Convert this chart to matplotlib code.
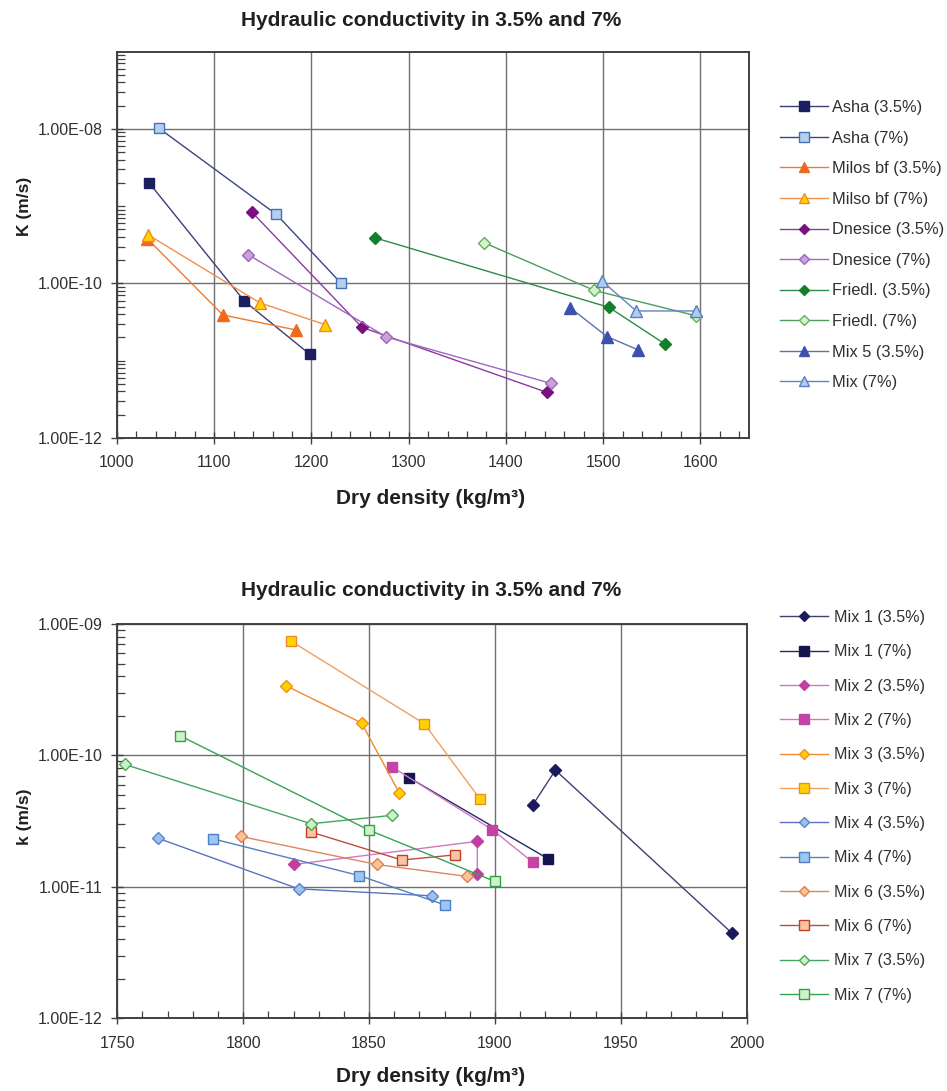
import numpy as np
import matplotlib
matplotlib.use("Agg")
import matplotlib.pyplot as plt
from matplotlib.ticker import FixedLocator, NullFormatter, FixedFormatter

plt.rcParams['font.family'] = ['Liberation Sans', 'DejaVu Sans']

# ---------------- upper chart data ----------------
asha_35_x = [1033, 1131, 1198]
asha_35_k = [2.0e-9, 5.9e-11, 1.22e-11]
asha_7_x = [1043, 1164, 1230]
asha_7_k = [1.02e-8, 7.8e-10, 1.02e-10]
milos_35_x = [1031, 1109, 1184]
milos_35_k = [3.8e-10, 3.9e-11, 2.5e-11]
milso_7_x = [1032, 1147, 1214]
milso_7_k = [4.25e-10, 5.6e-11, 2.93e-11]
dnesice_35_x = [1139, 1252, 1442]
dnesice_35_k = [8.3e-10, 2.7e-11, 3.9e-12]
dnesice_7_x = [1135, 1277, 1446]
dnesice_7_k = [2.35e-10, 2.03e-11, 5.1e-12]
friedl_35_x = [1265, 1506, 1564]
friedl_35_k = [3.9e-10, 4.9e-11, 1.63e-11]
friedl_7_x = [1377, 1491, 1596]
friedl_7_k = [3.38e-10, 8.1e-11, 3.8e-11]
mix5_35_x = [1466, 1504, 1536]
mix5_35_k = [4.85e-11, 2.05e-11, 1.38e-11]
mix_7_x = [1499, 1534, 1596]
mix_7_k = [1.07e-10, 4.4e-11, 4.4e-11]

# ---------------- lower chart data ----------------
mix1_35_x = [1915, 1924, 1994]
mix1_35_k = [4.19e-11, 7.73e-11, 4.47e-12]
mix1_7_x = [1866, 1921]
mix1_7_k = [6.75e-11, 1.64e-11]
mix2_35_x = [1820, 1893, 1893]
mix2_35_k = [1.48e-11, 2.22e-11, 1.26e-11]
mix2_7_x = [1859, 1899, 1915]
mix2_7_k = [8.2e-11, 2.72e-11, 1.54e-11]
mix3_35_x = [1817, 1847, 1862]
mix3_35_k = [3.39e-10, 1.77e-10, 5.19e-11]
mix3_7_x = [1819, 1872, 1894]
mix3_7_k = [7.41e-10, 1.74e-10, 4.67e-11]
mix4_35_x = [1766, 1822, 1875]
mix4_35_k = [2.35e-11, 9.66e-12, 8.55e-12]
mix4_7_x = [1788, 1846, 1880]
mix4_7_k = [2.32e-11, 1.22e-11, 7.3e-12]
mix6_35_x = [1799, 1853, 1889]
mix6_35_k = [2.42e-11, 1.48e-11, 1.2e-11]
mix6_7_x = [1827, 1863, 1884]
mix6_7_k = [2.61e-11, 1.6e-11, 1.75e-11]
mix7_35_x = [1753, 1827, 1859]
mix7_35_k = [8.54e-11, 3.02e-11, 3.5e-11]
mix7_7_x = [1775, 1850, 1900]
mix7_7_k = [1.41e-10, 2.7e-11, 1.1e-11]

TITLE = "Hydraulic conductivity in 3.5% and 7%"
XLABEL = "Dry density (kg/m\u00b3)"

W, H = 947, 1091
fig = plt.figure(figsize=(W / 100, H / 100), dpi=100)

def px_axes(l, t, r, b):
    return fig.add_axes([l / W, 1 - b / H, (r - l) / W, (b - t) / H])

def style_axes(ax, xlim, xmaj, xmin, ylim, ymaj, ylabels):
    ax.set_yscale('log')
    ax.set_xlim(*xlim)
    ax.set_ylim(*ylim)
    ax.xaxis.set_major_locator(FixedLocator(xmaj))
    ax.xaxis.set_minor_locator(FixedLocator([v for v in xmin if v not in xmaj]))
    ax.yaxis.set_major_locator(FixedLocator(ymaj))
    ax.yaxis.set_major_formatter(FixedFormatter(ylabels))
    lo, hi = int(round(np.log10(ylim[0]))), int(round(np.log10(ylim[1])))
    minors = []
    for e in range(lo, hi):
        for s in range(1, 10):
            v = s * 10.0 ** e
            if not any(np.isclose(v, m, rtol=1e-6, atol=0) for m in ymaj):
                minors.append(v)
    ax.yaxis.set_minor_locator(FixedLocator(minors))
    ax.yaxis.set_minor_formatter(NullFormatter())
    ax.grid(True, which='major', color='#707070', lw=1.0)
    ax.set_axisbelow(True)
    for sp in ax.spines.values():
        sp.set_color('#404040')
        sp.set_linewidth(1.4)
    ax.tick_params(which='major', direction='inout', length=9, width=1.0,
                   color='#404040', labelsize=11.5, labelcolor='#303030')
    ax.tick_params(which='minor', direction='in', length=5, width=0.9, color='#404040')
    ax.tick_params(axis='x', which='major', pad=8)
    ax.tick_params(axis='y', which='major', pad=6)
    ax.tick_params(axis='y', which='minor', length=6)

def series(ax, x, k, label, marker, ms, face, edge, line, lw=1.0):
    ax.plot(x, k, color=line, lw=lw, marker=marker, ms=ms,
            mfc=face, mec=edge, mew=1.0, label=label, zorder=3)

SQ, TRI, DIA = 7.5, 8.5, 6

# ---------------- upper chart ----------------
ax1 = px_axes(117, 51.5, 749, 438)
style_axes(ax1, (1000, 1650), list(range(1000, 1651, 100)),
           list(range(1000, 1651, 20)), (1e-12, 1e-7),
           [1e-12, 1e-10, 1e-8], ['1.00E-12', '1.00E-10', '1.00E-08'])

series(ax1, asha_35_x, asha_35_k, 'Asha (3.5%)', 's', SQ, '#1b1f62', '#1b1f62', '#3a3f78')
series(ax1, asha_7_x, asha_7_k, 'Asha (7%)', 's', SQ, '#b4d0f0', '#4a70b4', '#3c4482')
series(ax1, milos_35_x, milos_35_k, 'Milos bf (3.5%)', '^', TRI, '#f06a1e', '#f06a1e', '#f07a30')
series(ax1, milso_7_x, milso_7_k, 'Milso bf (7%)', '^', TRI, '#ffd400', '#f08a20', '#f09050')
series(ax1, dnesice_35_x, dnesice_35_k, 'Dnesice (3.5%)', 'D', DIA, '#7a1080', '#7a1080', '#8a3c9c')
series(ax1, dnesice_7_x, dnesice_7_k, 'Dnesice (7%)', 'D', DIA, '#c9a2dc', '#9a68b8', '#a066c0')
series(ax1, friedl_35_x, friedl_35_k, 'Friedl. (3.5%)', 'D', DIA, '#13802c', '#13802c', '#2e8a46')
series(ax1, friedl_7_x, friedl_7_k, 'Friedl. (7%)', 'D', DIA, '#d6f2c8', '#62b062', '#4e9c5a')
series(ax1, mix5_35_x, mix5_35_k, 'Mix 5 (3.5%)', '^', TRI, '#3e50b0', '#3e50b0', '#6070a8')
series(ax1, mix_7_x, mix_7_k, 'Mix (7%)', '^', TRI, '#acccf2', '#5c7ec0', '#6482c0')

ax1.legend(loc='upper left', bbox_to_anchor=(780 / W, 1 - 100 / H),
           bbox_transform=fig.transFigure, frameon=False, fontsize=11.8,
           handlelength=2.9, handletextpad=0.3, labelspacing=0.95,
           borderpad=0, borderaxespad=0, labelcolor='#303030', markerscale=0.9)

fig.text(431 / W, 1 - 20 / H, TITLE, ha='center', va='center',
         fontsize=15, fontweight='bold', color='#202020')
fig.text(431 / W, 1 - 499 / H, XLABEL, ha='center', va='center',
         fontsize=15, fontweight='bold', color='#202020')
fig.text(25 / W, 1 - 206 / H, 'K (m/s)', ha='center', va='center',
         rotation=90, fontsize=12.5, fontweight='bold', color='#202020')

# ---------------- lower chart ----------------
ax2 = px_axes(117.3, 624, 746.7, 1018.3)
style_axes(ax2, (1750, 2000), list(range(1750, 2001, 50)),
           list(range(1750, 2001, 10)), (1e-12, 1e-9),
           [1e-12, 1e-11, 1e-10, 1e-9],
           ['1.00E-12', '1.00E-11', '1.00E-10', '1.00E-09'])

series(ax2, mix1_35_x, mix1_35_k, 'Mix 1 (3.5%)', 'D', DIA, '#1a1a5c', '#1a1a5c', '#3e4070')
series(ax2, mix1_7_x, mix1_7_k, 'Mix 1 (7%)', 's', SQ, '#14164e', '#14164e', '#24266a')
series(ax2, mix2_35_x, mix2_35_k, 'Mix 2 (3.5%)', 'D', DIA, '#c040a0', '#c040a0', '#d276c4')
series(ax2, mix2_7_x, mix2_7_k, 'Mix 2 (7%)', 's', SQ, '#c444a4', '#c444a4', '#d276c4')
series(ax2, mix3_35_x, mix3_35_k, 'Mix 3 (3.5%)', 'D', DIA, '#ffd000', '#f09020', '#f08a30')
series(ax2, mix3_7_x, mix3_7_k, 'Mix 3 (7%)', 's', SQ, '#ffd400', '#f08a20', '#f0a060')
series(ax2, mix4_35_x, mix4_35_k, 'Mix 4 (3.5%)', 'D', DIA, '#9cc2ec', '#5a84c8', '#5874c0')
series(ax2, mix4_7_x, mix4_7_k, 'Mix 4 (7%)', 's', SQ, '#9cc6f0', '#4e80c0', '#5280c0')
series(ax2, mix6_35_x, mix6_35_k, 'Mix 6 (3.5%)', 'D', DIA, '#f8c496', '#e0804c', '#e08462')
series(ax2, mix6_7_x, mix6_7_k, 'Mix 6 (7%)', 's', SQ, '#f8c4a2', '#c0402c', '#b4503e')
series(ax2, mix7_35_x, mix7_35_k, 'Mix 7 (3.5%)', 'D', DIA, '#c8f2c8', '#52a652', '#44a462')
series(ax2, mix7_7_x, mix7_7_k, 'Mix 7 (7%)', 's', SQ, '#cdf2cd', '#32a240', '#34a452')

ax2.legend(loc='upper left', bbox_to_anchor=(780 / W, 1 - 610 / H),
           bbox_transform=fig.transFigure, frameon=False, fontsize=11.6,
           handlelength=3.0, handletextpad=0.35, labelspacing=1.2,
           borderpad=0, borderaxespad=0, labelcolor='#303030', markerscale=0.9)

fig.text(431 / W, 1 - 591 / H, TITLE, ha='center', va='center',
         fontsize=15, fontweight='bold', color='#202020')
fig.text(431 / W, 1 - 1076 / H, XLABEL, ha='center', va='center',
         fontsize=15, fontweight='bold', color='#202020')
fig.text(25 / W, 1 - 817 / H, 'k (m/s)', ha='center', va='center',
         rotation=90, fontsize=12.5, fontweight='bold', color='#202020')

fig.savefig('out.png', dpi=100, facecolor='white')
